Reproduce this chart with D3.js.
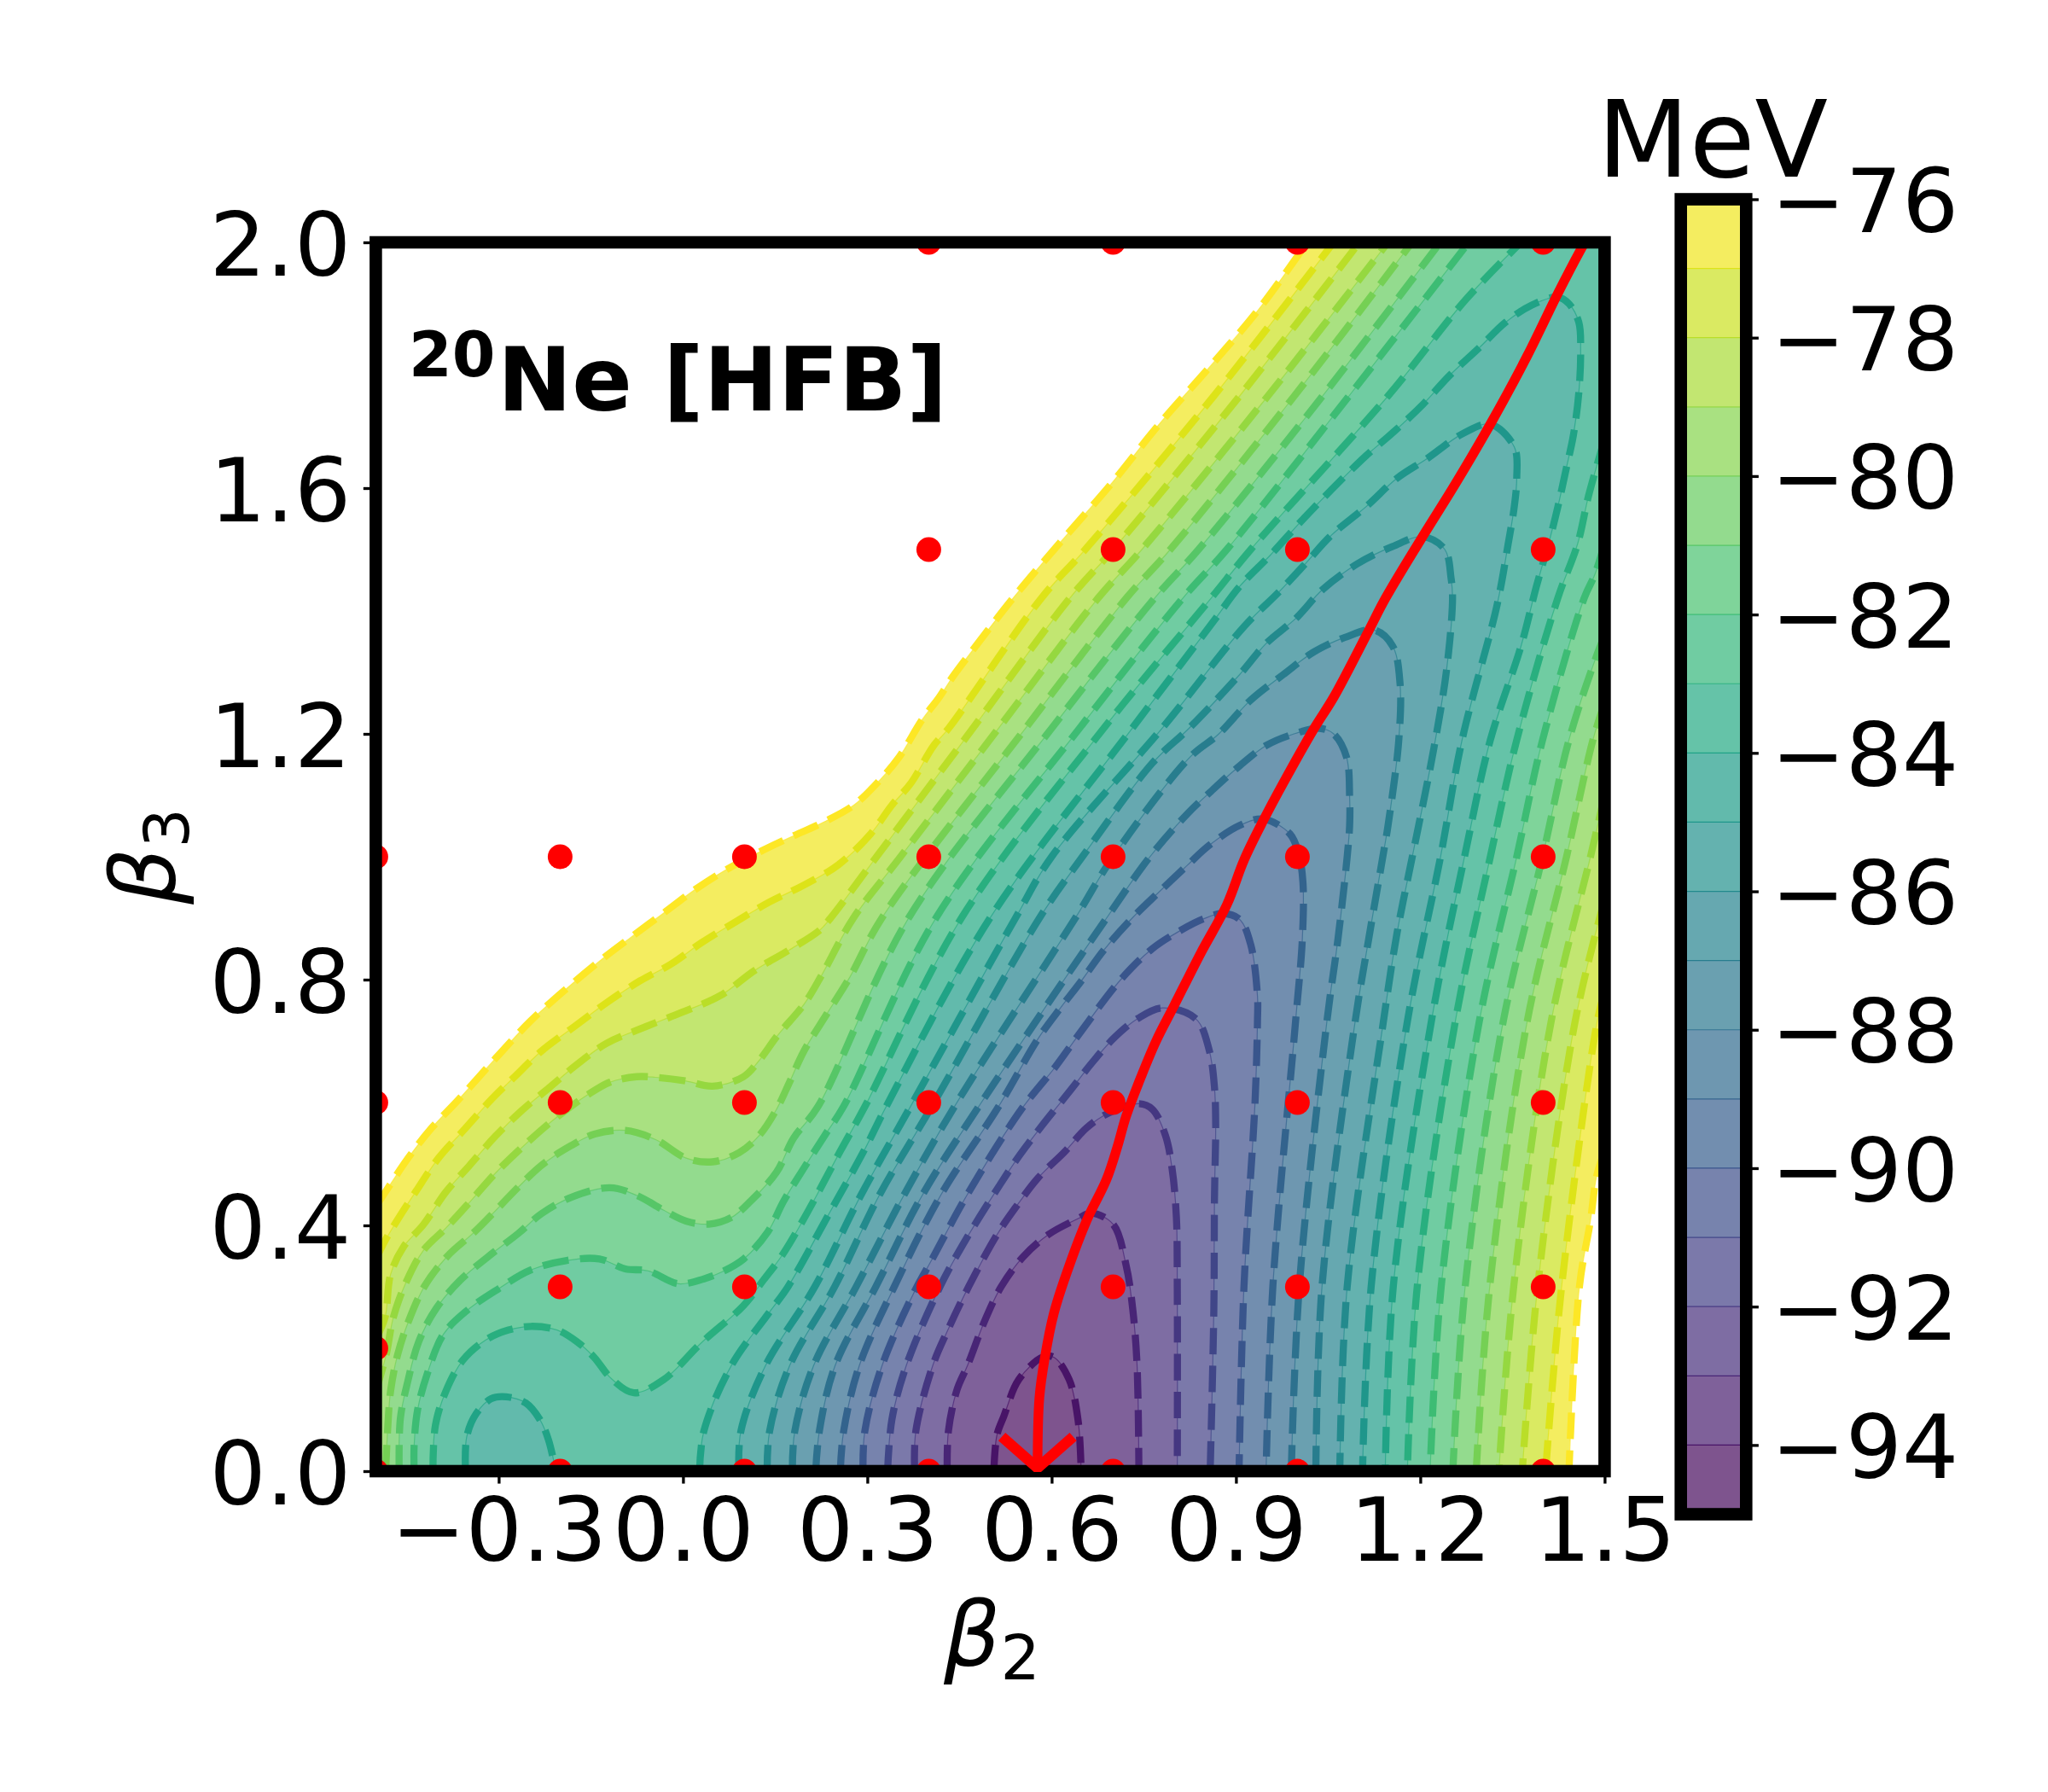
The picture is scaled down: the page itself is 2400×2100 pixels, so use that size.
<!DOCTYPE html>
<html>
<head>
<meta charset="utf-8">
<script src="https://cdn.jsdelivr.net/npm/d3@7"></script>
<style>
  body { margin: 0; background: #fff; }
  text { font-family: "DejaVu Sans"; fill: #000; }
</style>
</head>
<body>
<svg id="stage" width="2400" height="2100"></svg>
<script>
// contour levels in MeV, each one as [beta2, beta3] points
const e76Left = [[-.5,.431],[-.488,.449],[-.4475,.5095],[-.41,.5576],[-.367,.603],[-.305,.672],[-.249,.732],[-.2027,.774],[-.131,.834],[-.082,.871],[-.032,.908],[.0174,.945],[.067,.977],[.129,1.01],[.172,1.0305],[.228,1.056],[.278,1.084],[.321,1.1255],[.352,1.1625],[.389,1.2227],[.417,1.2595],[.4383,1.292],[.4667,1.33],[.5376,1.4215],[.616,1.514],[.697,1.607],[.775,1.704],[.857,1.797],[.9355,1.889],[1.016,2]]
const e76Right = [[1.5,.52],[1.487,.48],[1.477,.408],[1.459,.3],[1.442,0]]
const e77Left = [[-.5,.345],[-.485,.375],[-.466,.407],[-.435,.455],[-.398,.5095],[-.3546,.5576],[-.311,.606],[-.274,.642],[-.23,.684],[-.175,.725],[-.125,.762],[-.07,.798],[-.02,.825],[.03,.86],[.0855,.894],[.141,.9265],[.197,.954],[.253,.987],[.306,1.038],[.34,1.084],[.371,1.12],[.408,1.181],[.4323,1.209],[.5837,1.4215],[.6546,1.5],[.864,1.75],[1.059,2]]
const e77Right = [[1.5,.78],[1.488,.732],[1.43,.3],[1.404,0]]
const e78Left = [[-.5,.215],[-.485,.25],[-.476,.32],[-.455,.365],[-.4227,.401],[-.3855,.455],[-.348,.497],[-.305,.5455],[-.2616,.5876],[-.218,.624],[-.175,.66],[-.125,.696],[-.0694,.72],[-.0012,.747],[.0607,.774],[.1166,.815],[.172,.8477],[.222,.88],[.24,.9],[.315,1],[.4717,1.209],[.63,1.4215],[.7,1.5],[.906,1.75],[1.101,2]]
const e78Right = [[1.5,.93],[1.452,.732],[1.391,.3],[1.366,0]]
const e79Left = [[-.5,.13],[-.483,.19],[-.4714,.2505],[-.4505,.308],[-.4228,.359],[-.3857,.396],[-.348,.437],[-.305,.4854],[-.255,.5335],[-.206,.5756],[-.156,.612],[-.119,.633],[-.0756,.642],[-.0446,.641],[.005,.635],[.048,.6266],[.098,.6417],[.1228,.667],[.1538,.709],[.197,.76],[.225,.806],[.2772,.9],[.354,1],[.5134,1.209],[.676,1.4215],[.7468,1.5],[.952,1.75],[1.1475,2]]
const e79Right = [[1.5,1.1],[1.477,1],[1.413,.732],[1.352,.3],[1.328,0]]
const e80Left = [[-.484,0],[-.4806,.0699],[-.476,.13],[-.4644,.19],[-.446,.2459],[-.4205,.3014],[-.3834,.35],[-.3394,.3894],[-.2306,.4975],[-.181,.5305],[-.144,.5486],[-.094,.5546],[-.0446,.5396],[.005,.5095],[.048,.5035],[.0917,.5185],[.1244,.5468],[.152,.5885],[.172,.63],[.197,.684],[.234,.744],[.2715,.804],[.3235,.9],[.5573,1.209],[.722,1.4215],[.793,1.5],[.995,1.75],[1.1865,2]]
const e80Right = [[1.5,1.25],[1.481,1.19],[1.438,1],[1.374,.732],[1.313,.3],[1.291,0]]
const e81Left = [[-.462,0],[-.46,.086],[-.448,.146],[-.43,.211],[-.402,.2644],[-.3626,.3107],[-.3186,.348],[-.268,.387],[-.2306,.419],[-.181,.446],[-.119,.4613],[-.0756,.449],[-.032,.425],[.005,.407],[.042,.402],[.079,.413],[.1105,.44],[.1522,.4866],[.18,.542],[.2194,.593],[.367,.9],[.6,1.209],[.768,1.4215],[.839,1.5],[1.041,1.75],[1.2326,2]]
const e81Right = [[1.5,1.36],[1.488,1.33],[1.442,1.19],[1.399,1],[1.335,.732],[1.273,.3],[1.253,0]]
const e82Left = [[-.4376,0],[-.4376,.042],[-.432,.0996],[-.4158,.16],[-.39,.2227],[-.351,.262],[-.3,.297],[-.249,.327],[-.189,.343],[-.136,.3454],[-.094,.3292],[-.057,.326],[-.0074,.305],[.034,.313],[.0642,.3246],[.099,.3455],[.138,.3894],[.164,.44],[.1985,.496],[.231,.547],[.261,.593],[.4115,.9],[.6453,1.209],[.814,1.4215],[.885,1.5],[1.084,1.75],[1.279,2]]
const e82Right = [[1.5,1.51],[1.484,1.459],[1.467,1.4215],[1.399,1.19],[1.357,1],[1.296,.732],[1.234,.3],[1.216,0]]
const e83Left = [[-.407,0],[-.403,.0746],[-.386,.13],[-.358,.181],[-.321,.2135],[-.284,.2297],[-.247,.2357],[-.205,.2297],[-.173,.211],[-.145,.1857],[-.117,.151],[-.08,.1275],[-.032,.1486],[.03,.209],[.098,.269],[.131,.311],[.162,.3524],[.199,.415],[.2563,.5214],[.2958,.593],[.453,.9],[.6847,1.209],[.86,1.4215],[.924,1.5],[1.1475,1.75],[1.275,1.908],[1.364,2]]
const e83Right = [[1.5,1.68],[1.474,1.588],[1.456,1.509],[1.424,1.4215],[1.357,1.19],[1.314,1],[1.257,.732],[1.195,.3],[1.179,0]]
const e84 = [[.027,0],[.034,.0654],[.0787,.1718],[.138,.2552],[.171,.3005],[.2355,.415],[.2957,.5237],[.3305,.593],[.4995,.9],[.731,1.209],[.864,1.384],[.906,1.44],[.956,1.491],[1.006,1.546],[1.055,1.597],[1.112,1.653],[1.155,1.69],[1.204,1.736],[1.247,1.7826],[1.2965,1.829],[1.339,1.87],[1.3816,1.898],[1.424,1.911],[1.442,1.9],[1.458,1.87],[1.461,1.824],[1.458,1.755],[1.449,1.685],[1.438,1.634],[1.424,1.57],[1.41,1.514],[1.389,1.44],[1.364,1.343],[1.314,1.19],[1.272,1],[1.218,.732],[1.156,.3],[1.143,0]]
const e84Basin = [[-.354,0],[-.352,.056],[-.337,.093],[-.312,.118],[-.288,.121],[-.256,.111],[-.233,.084],[-.219,.051],[-.207,0]]
const e85 = [[.091,0],[.0943,.0654],[.1343,.1718],[.2147,.3005],[.29,.45],[.37,.593],[.541,.9],[.6,1],[.7796,1.209],[.9135,1.375],[.97,1.431],[1.013,1.477],[1.055,1.523],[1.112,1.57],[1.162,1.616],[1.211,1.648],[1.268,1.688],[1.314,1.704],[1.353,1.667],[1.357,1.616],[1.353,1.57],[1.343,1.509],[1.325,1.41],[1.268,1.19],[1.233,1],[1.179,.732],[1.12,.3],[1.106,0]]
const e86 = [[.137,0],[.141,.0654],[.1736,.1718],[.247,.3005],[.32,.45],[.4046,.593],[.58,.9],[.65,1],[.7645,1.153],[.8236,1.209],[.906,1.2965],[.949,1.347],[.9986,1.389],[1.041,1.435],[1.098,1.477],[1.155,1.505],[1.204,1.521],[1.24,1.5],[1.25,1.454],[1.2525,1.4215],[1.243,1.306],[1.222,1.176],[1.187,1],[1.162,.875],[1.14,.732],[1.081,.3],[1.069,0]]
const e87 = [[.178,0],[.182,.0654],[.2126,.1718],[.282,.3005],[.36,.45],[.4416,.593],[.6384,.9],[.7,1],[.825,1.162],[.871,1.199],[.924,1.255],[.977,1.2965],[1.027,1.3335],[1.0766,1.3567],[1.125,1.369],[1.155,1.343],[1.167,1.2826],[1.165,1.19],[1.1475,1.051],[1.139,1],[1.116,.866],[1.094,.732],[1.04,.3],[1.03,0]]
const e88 = [[.216,0],[.222,.0654],[.2476,.1718],[.314,.3005],[.39,.45],[.481,.593],[.6893,.9],[.76,1],[.821,1.07],[.86,1.107],[.906,1.148],[.949,1.181],[.9915,1.199],[1.036,1.209],[1.059,1.2],[1.08,1.162],[1.085,1.097],[1.085,1.051],[1.081,1],[1.066,.866],[1.048,.732],[1.003,.3],[.99,0]]
const e89 = [[.256,0],[.2615,.0654],[.287,.1718],[.344,.3005],[.42,.45],[.5134,.593],[.578,.704],[.6152,.755],[.6476,.797],[.6847,.8478],[.731,.9],[.772,.94],[.821,.9863],[.857,1.019],[.906,1.051],[.945,1.0613],[.988,1.037],[1.002,1.005],[1.009,.9585],[1.008,.866],[.997,.732],[.96,.3],[.949,0]]
const e90 = [[.293,0],[.296,.0654],[.324,.1718],[.3744,.2876],[.407,.3478],[.4624,.4496],[.5504,.5885],[.606,.658],[.643,.709],[.7124,.8],[.7634,.85],[.8097,.88],[.8467,.8987],[.878,.9076],[.906,.898],[.924,.857],[.935,.773],[.935,.732],[.931,.6],[.913,.3],[.905,0]]
const e91 = [[.333,0],[.34,.084],[.3634,.1718],[.4184,.3005],[.4554,.3686],[.5156,.4658],[.548,.5144],[.583,.5607],[.6314,.621],[.666,.665],[.703,.7066],[.74,.7366],[.78,.754],[.835,.736],[.8565,.685],[.865,.625],[.867,.565],[.865,.444],[.864,.2636],[.858,0]]
const e92 = [[.377,0],[.379,.0654],[.4065,.1718],[.43,.2274],[.465,.3005],[.511,.3848],[.541,.4288],[.578,.4774],[.621,.5196],[.657,.5588],[.693,.583],[.7425,.598],[.764,.589],[.785,.547],[.796,.4925],[.803,.414],[.8045,.2937],[.8045,0]]
const e93 = [[.43,0],[.432,.0654],[.446,.1325],[.463,.1718],[.4925,.2482],[.518,.3005],[.5526,.3478],[.5943,.3848],[.643,.411],[.664,.42],[.7,.402],[.721,.336],[.732,.2636],[.739,.173],[.742,0]]
const e94 = [[.506,0],[.511,.059],[.522,.089],[.5465,.149],[.586,.186],[.604,.185],[.6285,.149],[.643,.083],[.648,0]]

// path along the valley of the surface
const fissionPath = [[.577,.005],[.58,.119],[.589,.185],[.6036,.257],[.625,.324],[.657,.408],[.689,.474],[.707,.528],[.721,.577],[.746,.643],[.77,.7],[.7995,.758],[.8426,.843],[.885,.9215],[.9135,.9956],[.945,1.06],[.977,1.12],[1.027,1.2085],[1.059,1.2595],[1.116,1.368],[1.143,1.42],[1.2,1.515],[1.257,1.6067],[1.314,1.704],[1.374,1.815],[1.424,1.917],[1.46,1.986],[1.468,2]]
const arrowHead = [[.519,.056],[.577,.005],[.635,.056]]

const dotsBeta3Top = [2, 1.5]
const dotsBeta2Top = [.4, .7, 1, 1.4]
const dotsBeta3Full = [1, .6, 0]
const dotsBeta2Full = [-.5, -.2, .1, .4, .7, 1, 1.4]
const dotsBeta2Mid = [-.2, .1, .4, .7, 1, 1.4]
const dotsExtra = [[-.5, .2]]

const xTicks = [-.3, 0, .3, .6, .9, 1.2, 1.5]
const yTicks = [0, .4, .8, 1.2, 1.6, 2]
const barTicks = [-76, -78, -80, -82, -84, -86, -88, -90, -92, -94]

const levels = [
  [-76, [[e76Left, e76Right]]],
  [-77, [[e77Left, e77Right]]],
  [-78, [[e78Left, e78Right]]],
  [-79, [[e79Left, e79Right]]],
  [-80, [[e80Left, e80Right]]],
  [-81, [[e81Left, e81Right]]],
  [-82, [[e82Left, e82Right]]],
  [-83, [[e83Left, e83Right]]],
  [-84, [[e84], [e84Basin]]],
  [-85, [[e85]]],
  [-86, [[e86]]],
  [-87, [[e87]]],
  [-88, [[e88]]],
  [-89, [[e89]]],
  [-90, [[e90]]],
  [-91, [[e91]]],
  [-92, [[e92]]],
  [-93, [[e93]]],
  [-94, [[e94]]]
]

const eMin = -95, eMax = -76
const pt = 300 / 72
const spine = 3.5 * pt
const tickLen = 3.5 * pt
const tickWidth = .8 * pt
const fontSize = 25 * pt

const svg = d3.select('#stage')
const x = d3.scaleLinear().domain([-.5, 1.5]).range([440.4, 1880.4])
const y = d3.scaleLinear().domain([0, 2]).range([1724, 284])
const barY = d3.scaleLinear().domain([eMin, eMax]).range([1774.5, 233.5])
const barLeft = 1969.7, barRight = 2046.3

const minus = s => s.replace('-', '\u2212')
const lineColor = e => d3.interpolateViridis((e - eMin) / (eMax - eMin))
// contourf is drawn with alpha .7 over the white page
const bandColor = e => {
  const c = d3.rgb(lineColor(e))
  const mix = v => Math.round(v * .7 + 255 * .3)
  return d3.rgb(mix(c.r), mix(c.g), mix(c.b)).formatHex()
}

const curve = d3.line()
  .x(d => x(d[0]))
  .y(d => y(d[1]))
  .curve(d3.curveCatmullRom.alpha(.5))

const regionPath = segs => {
  const parts = segs.map(curve)
  let d = parts[0]
  for (let i = 1; i < parts.length; i++) {
    d += `L${x(1.5)},${y(2)}L` + parts[i].slice(1)
  }
  return d + `L${x(segs[0][0][0])},${y(0)}Z`
}

svg.append('clipPath').attr('id', 'plotClip')
  .append('rect')
  .attr('x', x(-.5)).attr('y', y(2))
  .attr('width', x(1.5) - x(-.5)).attr('height', y(0) - y(2))

const plot = svg.append('g').attr('clip-path', 'url(#plotClip)')

// highest region first, every lower one paints over it
levels.forEach(([e, shapes]) => {
  shapes.forEach(segs => {
    plot.append('path')
      .attr('d', regionPath(segs))
      .attr('fill', bandColor(e - .5))
  })
})

levels.forEach(([e, shapes]) => {
  shapes.forEach(segs => {
    segs.forEach(seg => {
      plot.append('path')
        .attr('d', curve(seg))
        .attr('fill', 'none')
        .attr('stroke', lineColor(e))
        .attr('stroke-opacity', .7)
        .attr('stroke-width', 1.2)
      plot.append('path')
        .attr('d', curve(seg))
        .attr('fill', 'none')
        .attr('stroke', lineColor(e))
        .attr('stroke-width', 2 * pt)
        .attr('stroke-dasharray', `${3.7 * 2 * pt} ${1.6 * 2 * pt}`)
    })
  })
})

plot.append('path')
  .attr('d', curve(fissionPath))
  .attr('fill', 'none')
  .attr('stroke', '#ff0000')
  .attr('stroke-width', 2.7 * pt)

const dots = [
  ...d3.cross(dotsBeta2Top, dotsBeta3Top),
  ...d3.cross(dotsBeta2Full, dotsBeta3Full),
  ...dotsBeta2Mid.map(b => [b, .3]),
  ...dotsExtra
]
plot.append('g').selectAll('circle')
  .data(dots)
  .enter()
  .append('circle')
  .attr('cx', d => x(d[0]))
  .attr('cy', d => y(d[1]))
  .attr('r', 14.5)
  .attr('fill', '#ff0000')

// axes
const styleAxis = (g, anchor) => {
  g.select('.domain').remove()
  g.selectAll('.tick line').attr('stroke', '#000').attr('stroke-width', tickWidth)
  g.selectAll('.tick text')
    .attr('fill', '#000')
    .style('font-family', '"DejaVu Sans"')
    .style('font-size', fontSize + 'px')
    .attr('text-anchor', anchor)
}

svg.append('g')
  .attr('transform', `translate(0,${y(0)})`)
  .call(d3.axisBottom(x).tickValues(xTicks).tickSize(tickLen).tickPadding(tickLen)
    .tickFormat(d => minus(d3.format('.1f')(d))))
  .call(g => styleAxis(g, 'middle'))
  .call(g => g.selectAll('.tick text').attr('y', tickLen * 2 + .729 * fontSize).attr('dy', 0))

svg.append('g')
  .attr('transform', `translate(${x(-.5)},0)`)
  .call(d3.axisLeft(y).tickValues(yTicks).tickSize(tickLen).tickPadding(tickLen)
    .tickFormat(d3.format('.1f')))
  .call(g => styleAxis(g, 'end'))
  .call(g => g.selectAll('.tick text').attr('dy', '.365em'))

svg.append('rect')
  .attr('x', x(-.5)).attr('y', y(2))
  .attr('width', x(1.5) - x(-.5)).attr('height', y(0) - y(2))
  .attr('fill', 'none')
  .attr('stroke', '#000')
  .attr('stroke-width', spine)

// the arrow sits above the frame, its tip runs into the bottom spine
svg.append('path')
  .attr('d', d3.line().x(d => x(d[0])).y(d => y(d[1]))(arrowHead))
  .attr('fill', 'none')
  .attr('stroke', '#ff0000')
  .attr('stroke-width', 3 * pt)
  .attr('stroke-linejoin', 'bevel')

// labels
const xLabel = svg.append('text').attr('x', 1106).attr('y', 1952).style('font-size', fontSize + 'px')
xLabel.append('tspan').style('font-style', 'italic').text('β')
xLabel.append('tspan').attr('dy', 16).style('font-size', fontSize * .7 + 'px').text('2')

const yLabel = svg.append('text')
  .attr('transform', 'translate(205,1060) rotate(-90)')
  .style('font-size', fontSize + 'px')
yLabel.append('tspan').style('font-style', 'italic').text('β')
yLabel.append('tspan').attr('dy', 16).style('font-size', fontSize * .7 + 'px').text('3')

svg.append('text').attr('x', 479).attr('y', 441)
  .style('font-size', fontSize * .7 + 'px').style('font-weight', 'bold').text('20')
svg.append('text').attr('x', 583).attr('y', 481)
  .style('font-size', fontSize + 'px').style('font-weight', 'bold').text('Ne [HFB]')

// colorbar
const barLevels = d3.range(eMin, eMax)
svg.append('g').selectAll('rect')
  .data(barLevels)
  .enter()
  .append('rect')
  .attr('x', barLeft)
  .attr('y', d => barY(d + 1))
  .attr('width', barRight - barLeft)
  .attr('height', d => barY(d) - barY(d + 1))
  .attr('fill', d => bandColor(d + .5))

svg.append('g').selectAll('line')
  .data(levels.map(d => d[0]).filter(e => e > eMin && e < eMax))
  .enter()
  .append('line')
  .attr('x1', barLeft).attr('x2', barRight)
  .attr('y1', d => barY(d)).attr('y2', d => barY(d))
  .attr('stroke', d => lineColor(d))
  .attr('stroke-width', 1.2)

svg.append('rect')
  .attr('x', barLeft).attr('y', barY(eMax))
  .attr('width', barRight - barLeft).attr('height', barY(eMin) - barY(eMax))
  .attr('fill', 'none')
  .attr('stroke', '#000')
  .attr('stroke-width', spine)

svg.append('g')
  .attr('transform', `translate(${barRight},0)`)
  .call(d3.axisRight(barY).tickValues(barTicks).tickSize(tickLen).tickPadding(tickLen)
    .tickFormat(d => minus(String(d))))
  .call(g => styleAxis(g, 'start'))
  .call(g => g.selectAll('.tick text').attr('dy', '.365em'))

svg.append('text')
  .attr('x', 2007).attr('y', 207)
  .attr('text-anchor', 'middle')
  .style('font-size', 30 * pt + 'px')
  .text('MeV')
</script>
</body>
</html>
